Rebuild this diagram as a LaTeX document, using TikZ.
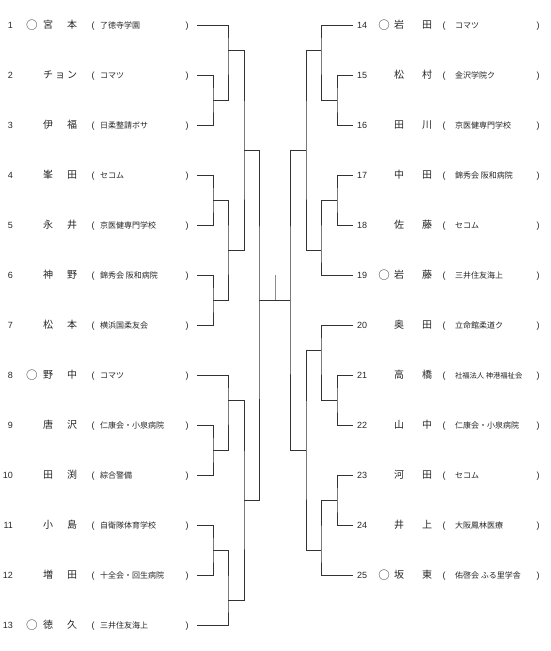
\documentclass[tikz,border=0pt]{standalone}
\usepackage{fontspec}
\newfontfamily\jp{Noto Sans CJK JP}
\newfontfamily\ar{Liberation Sans}
\tikzset{
  every node/.style={inner sep=0pt, outer sep=0pt},
  numtxt/.style={font=\ar\fontsize{9}{10}\selectfont, text=black!85},
  nametxt/.style={font=\jp\fontsize{10}{12}\selectfont, text=black!85},
  marktxt/.style={font=\jp\fontsize{11.5}{12}\selectfont, text=black!85},
  partxt/.style={font=\ar\fontsize{9}{10}\selectfont, text=black!85},
  clubtxt/.style={font=\jp\fontsize{8}{9}\selectfont, text=black!85},
  brk/.style={line width=0.9pt, draw=black!80},
  champ/.style={line width=1pt, draw=black!45}
}
\newcommand\LRow[4]{%
  \node[numtxt, anchor=base east] (num#1) at (13,#2+3.2) {#1};
  \node[nametxt, anchor=base] (nm#1) at (60,#2+3.6) {#3};
  \node[partxt, anchor=base] (op#1) at (93,#2+3.0) {(};
  \node[clubtxt, anchor=base west] (cl#1) at (100,#2+3.0) {#4};
  \node[partxt, anchor=base] (cp#1) at (187,#2+3.0) {)};
  \coordinate (L#1) at (197,#2);
}
\newcommand\RRow[4]{%
  \coordinate (R#1) at (353,#2);
  \node[numtxt, anchor=base west] (num#1) at (357,#2+3.2) {#1};
  \node[nametxt, anchor=base] (nm#1) at (413,#2+3.6) {#3};
  \node[partxt, anchor=base] (op#1) at (444,#2+3.0) {(};
  \node[clubtxt, anchor=base west] (cl#1) at (455,#2+3.0) {#4};
  \node[partxt, anchor=base] (cp#1) at (538,#2+3.0) {)};
}
\begin{document}
\begin{tikzpicture}[x=1pt, y=-1pt]
\useasboundingbox (0,0) rectangle (550,651);
% left entries
\LRow{1}{25}{宮\hspace{14pt}本}{了徳寺学園}
\LRow{2}{75}{チ\hspace{2pt}ョ\hspace{2pt}ン}{コマツ}
\LRow{3}{125}{伊\hspace{14pt}福}{日柔整請ボサ}
\LRow{4}{175}{峯\hspace{14pt}田}{セコム}
\LRow{5}{225}{永\hspace{14pt}井}{京医健専門学校}
\LRow{6}{275}{神\hspace{14pt}野}{錦秀会 阪和病院}
\LRow{7}{325}{松\hspace{14pt}本}{横浜国柔友会}
\LRow{8}{375}{野\hspace{14pt}中}{コマツ}
\LRow{9}{425}{唐\hspace{14pt}沢}{仁康会・小泉病院}
\LRow{10}{475}{田\hspace{14pt}渕}{綜合警備}
\LRow{11}{525}{小\hspace{14pt}島}{自衛隊体育学校}
\LRow{12}{575}{増\hspace{14pt}田}{十全会・回生病院}
\LRow{13}{625}{徳\hspace{14pt}久}{三井住友海上}
\node[marktxt, anchor=base] (mk1) at (32,29.2) {○};
\node[marktxt, anchor=base] (mk8) at (32,379.2) {○};
\node[marktxt, anchor=base] (mk13) at (32,629.2) {○};
% right entries
\RRow{14}{25}{岩\hspace{18pt}田}{コマツ}
\RRow{15}{75}{松\hspace{18pt}村}{金沢学院ク}
\RRow{16}{125}{田\hspace{18pt}川}{京医健専門学校}
\RRow{17}{175}{中\hspace{18pt}田}{錦秀会 阪和病院}
\RRow{18}{225}{佐\hspace{18pt}藤}{セコム}
\RRow{19}{275}{岩\hspace{18pt}藤}{三井住友海上}
\RRow{20}{325}{奥\hspace{18pt}田}{立命館柔道ク}
\RRow{21}{375}{高\hspace{18pt}橋}{\fontsize{7.3}{9}\selectfont 社福法人 神港福祉会}
\RRow{22}{425}{山\hspace{18pt}中}{仁康会・小泉病院}
\RRow{23}{475}{河\hspace{18pt}田}{セコム}
\RRow{24}{525}{井\hspace{18pt}上}{大阪鳳林医療}
\RRow{25}{575}{坂\hspace{18pt}東}{佑啓会 ふる里学舎}
\node[marktxt, anchor=base] (mk14) at (384,29.2) {○};
\node[marktxt, anchor=base] (mk19) at (384,279.2) {○};
\node[marktxt, anchor=base] (mk25) at (384,579.2) {○};
% left bracket joints
\coordinate (a23) at (213,100);
\coordinate (a45) at (213,200);
\coordinate (a67) at (213,300);
\coordinate (a910) at (213,450);
\coordinate (a1112) at (213,550);
\coordinate (c1) at (228,50);
\coordinate (c2) at (228,250);
\coordinate (c3) at (228,400);
\coordinate (c4) at (228,600);
\coordinate (d1) at (244,150);
\coordinate (d2) at (244,500);
\coordinate (e) at (259,300);
% right bracket joints
\coordinate (p1516) at (337,100);
\coordinate (p1718) at (337,200);
\coordinate (p2122) at (337,400);
\coordinate (p2324) at (337,500);
\coordinate (q1) at (321,50);
\coordinate (q2) at (321,250);
\coordinate (q3) at (321,350);
\coordinate (q4) at (321,550);
\coordinate (s1) at (306,150);
\coordinate (s2) at (306,450);
\coordinate (f) at (290,300);
\coordinate (w0) at (275,300);
\coordinate (w1) at (275,275);
% left lines
\draw[brk] (L2) -| (a23) |- (L3);
\draw[brk] (L1) -| (c1) |- (a23);
\draw[brk] (L4) -| (a45) |- (L5);
\draw[brk] (L6) -| (a67) |- (L7);
\draw[brk] (a45) -| (c2) |- (a67);
\draw[brk] (c1) -| (d1) |- (c2);
\draw[brk] (L9) -| (a910) |- (L10);
\draw[brk] (L8) -| (c3) |- (a910);
\draw[brk] (L11) -| (a1112) |- (L12);
\draw[brk] (a1112) -| (c4) |- (L13);
\draw[brk] (c3) -| (d2) |- (c4);
\draw[brk] (d1) -| (e) |- (d2);
% right lines
\draw[brk] (R15) -| (p1516) |- (R16);
\draw[brk] (R14) -| (q1) |- (p1516);
\draw[brk] (R17) -| (p1718) |- (R18);
\draw[brk] (p1718) -| (q2) |- (R19);
\draw[brk] (q1) -| (s1) |- (q2);
\draw[brk] (R21) -| (p2122) |- (R22);
\draw[brk] (R20) -| (q3) |- (p2122);
\draw[brk] (R23) -| (p2324) |- (R24);
\draw[brk] (p2324) -| (q4) |- (R25);
\draw[brk] (q3) -| (s2) |- (q4);
\draw[brk] (s1) -| (f) |- (s2);
% final
\draw[brk] (e) -- (f);
\draw[champ] (w0) -- (w1);
\end{tikzpicture}
\end{document}
